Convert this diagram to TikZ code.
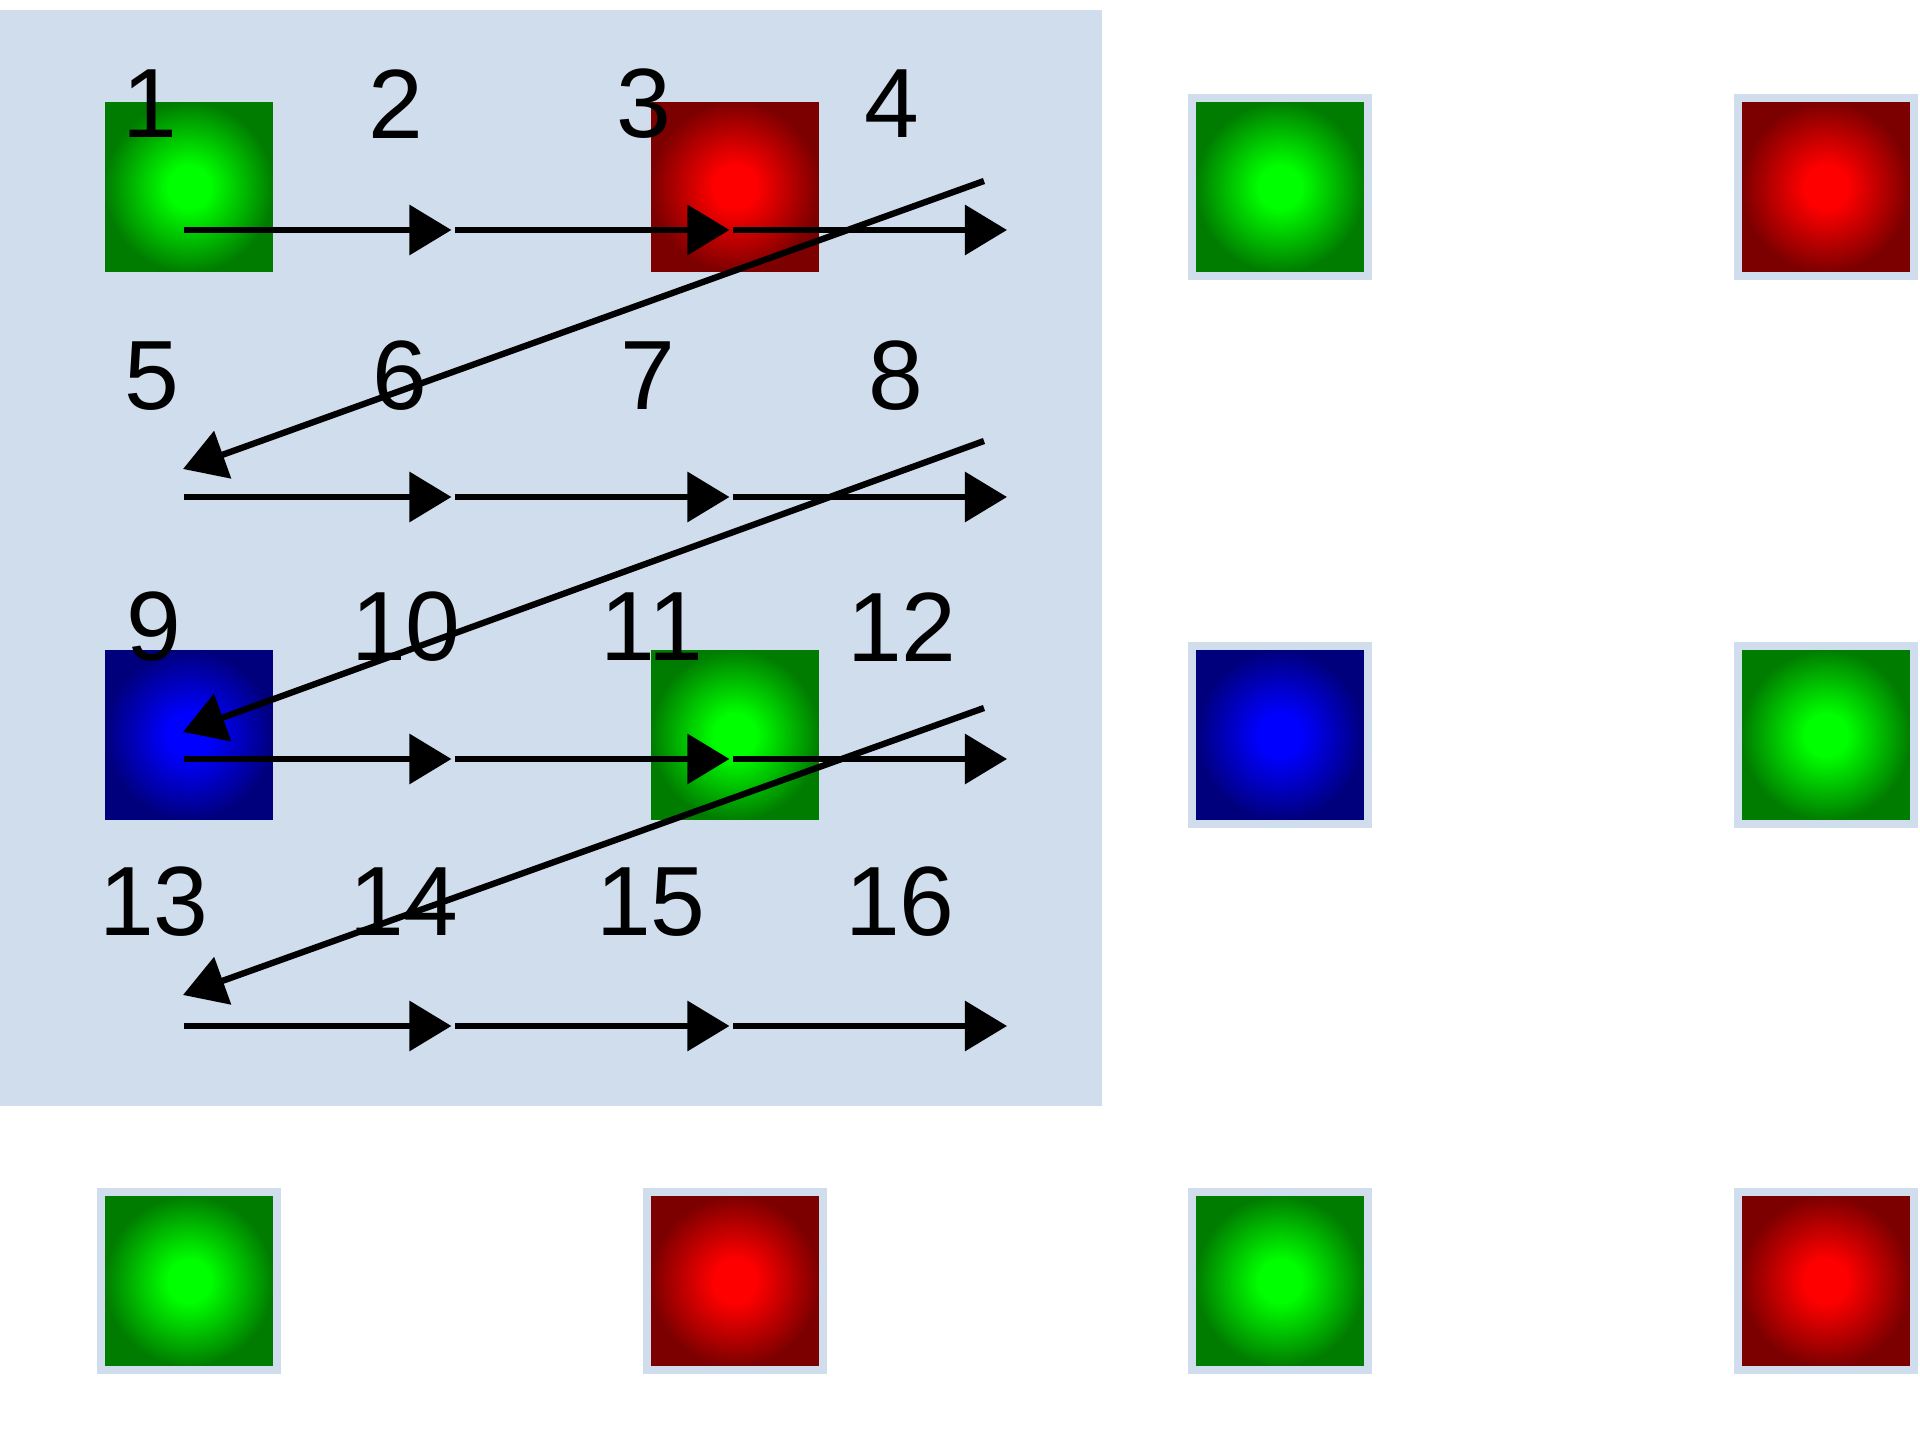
\documentclass[tikz,border=0pt]{standalone}
\usepackage{fontspec}
\setmainfont{Liberation Sans}
\usetikzlibrary{arrows.meta}
\definecolor{panel}{HTML}{CFDDEC}
\definecolor{gbright}{HTML}{00FF00}
\definecolor{gdark}{HTML}{007C00}
\definecolor{rbright}{HTML}{FF0000}
\definecolor{rdark}{HTML}{7C0000}
\definecolor{bbright}{HTML}{0000FF}
\definecolor{bdark}{HTML}{00007C}
\pgfdeclareradialshading{gglow}{\pgfpoint{0bp}{0bp}}{color(0bp)=(gbright); color(6bp)=(gbright); color(24bp)=(gdark); color(50bp)=(gdark)}
\pgfdeclareradialshading{rglow}{\pgfpoint{0bp}{0bp}}{color(0bp)=(rbright); color(6bp)=(rbright); color(24bp)=(rdark); color(50bp)=(rdark)}
\pgfdeclareradialshading{bglow}{\pgfpoint{0bp}{0bp}}{color(0bp)=(bbright); color(6bp)=(bbright); color(24bp)=(bdark); color(50bp)=(bdark)}

\begin{document}
\begin{tikzpicture}[x=0.01cm, y=-0.01cm, every node/.style={font=\fontsize{28}{30}\selectfont, inner sep=0pt},
  tile/.style={draw=panel, line width=2.3pt, minimum width=1.76cm, minimum height=1.78cm},
  gtile/.style={tile, shading=gglow},
  rtile/.style={tile, shading=rglow},
  btile/.style={tile, shading=bglow},
  flow/.style={-{Triangle[length=12pt, width=14pt]}, line width=1.8pt, black}]
\useasboundingbox (0,0) rectangle (1920,1440);
\fill[panel] (0,10) rectangle (1102,1106);
% tiles
\node[gtile] (t11) at (189,187) {};
\node[rtile] (t12) at (735,187) {};
\node[gtile] (t13) at (1280,187) {};
\node[rtile] (t14) at (1826,187) {};
\node[btile] (t21) at (189,735) {};
\node[gtile] (t22) at (735,735) {};
\node[btile] (t23) at (1280,735) {};
\node[gtile] (t24) at (1826,735) {};
\node[gtile] (t31) at (189,1281) {};
\node[rtile] (t32) at (735,1281) {};
\node[gtile] (t33) at (1280,1281) {};
\node[rtile] (t34) at (1826,1281) {};
% numbers
\node (n1) at (150,104) {1};
\node (n2) at (396,104) {2};
\node (n3) at (644,104) {3};
\node (n4) at (892,104) {4};
\node (n5) at (152,376) {5};
\node (n6) at (400,376) {6};
\node (n7) at (648,376) {7};
\node (n8) at (896,376) {8};
\node (n9) at (154,627) {9};
\node (n10) at (406,627) {10};
\node (n11) at (652,627) {11};
\node (n12) at (902,627) {12};
\node (n13) at (154,902) {13};
\node (n14) at (404,902) {14};
\node (n15) at (651,902) {15};
\node (n16) at (900,902) {16};
% scan points
\coordinate (a0) at (184,230); \coordinate (a1) at (455,230); \coordinate (a2) at (733,230); \coordinate (a3) at (1007,230);
\coordinate (b0) at (184,497); \coordinate (b1) at (455,497); \coordinate (b2) at (733,497); \coordinate (b3) at (1007,497);
\coordinate (c0) at (184,759); \coordinate (c1) at (455,759); \coordinate (c2) at (733,759); \coordinate (c3) at (1007,759);
\coordinate (d0) at (184,1026); \coordinate (d1) at (455,1026); \coordinate (d2) at (733,1026); \coordinate (d3) at (1007,1026);
\coordinate (ab) at (984,181); \coordinate (ba) at (183,469);
\coordinate (bc) at (984,441); \coordinate (cb) at (183,732);
\coordinate (cd) at (984,708); \coordinate (dc) at (183,995);
% scan order
\draw[flow, shorten >=1pt] (a0) -- (a1);
\draw[flow, shorten >=1pt] (a1) -- (a2);
\draw[flow] (a2) -- (a3);
\draw[flow] (ab) -- (ba);
\draw[flow, shorten >=1pt] (b0) -- (b1);
\draw[flow, shorten >=1pt] (b1) -- (b2);
\draw[flow] (b2) -- (b3);
\draw[flow] (bc) -- (cb);
\draw[flow, shorten >=1pt] (c0) -- (c1);
\draw[flow, shorten >=1pt] (c1) -- (c2);
\draw[flow] (c2) -- (c3);
\draw[flow] (cd) -- (dc);
\draw[flow, shorten >=1pt] (d0) -- (d1);
\draw[flow, shorten >=1pt] (d1) -- (d2);
\draw[flow] (d2) -- (d3);
\end{tikzpicture}
\end{document}
